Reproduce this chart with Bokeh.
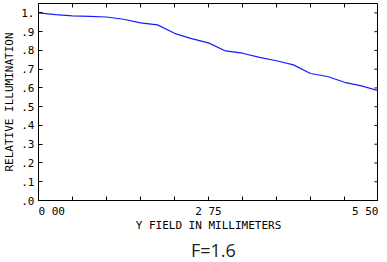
import math
from bokeh.plotting import figure
from bokeh.models import Range1d, FixedTicker, Div
from bokeh.layouts import column
from bokeh.embed import file_html
from bokeh.resources import INLINE

# Data
field_mm = [0.0, 0.275, 0.55, 0.825, 1.1, 1.375, 1.65, 1.925, 2.2, 2.475, 2.75,
            3.025, 3.3, 3.575, 3.85, 4.125, 4.4, 4.675, 4.95, 5.225, 5.5]
illumination = [1.000, 0.991, 0.984, 0.981, 0.978, 0.966, 0.947, 0.936, 0.891, 0.863, 0.840,
                0.797, 0.785, 0.763, 0.745, 0.723, 0.677, 0.661, 0.630, 0.611, 0.585]

y_ticks = [0.0, 0.1, 0.2, 0.3, 0.4, 0.5, 0.6, 0.7, 0.8, 0.9, 1.0]
y_tick_labels = [".0", ".1", ".2", ".3", ".4", ".5", ".6", ".7", ".8", ".9", "1."]
x_ticks = [0.0, 0.55, 1.1, 1.65, 2.2, 2.75, 3.3, 3.85, 4.4, 4.95, 5.5]
x_tick_labels = {0.0: "0 00", 2.75: "2 75", 5.5: "5 50"}

x_title = "Y FIELD IN MILLIMETERS"
y_title = "RELATIVE ILLUMINATION"
caption = "F=1.6"

MONO = "DejaVu Sans Mono"
NB = "\u00a0"
X_MAX = 5.5
Y_MAX = 1.05

p = figure(width=378, height=234, output_backend="svg", toolbar_location=None,
           x_range=Range1d(0, X_MAX), y_range=Range1d(0, Y_MAX),
           min_border_left=34, min_border_right=0, min_border_top=3, min_border_bottom=0)
p.background_fill_color = "white"
p.border_fill_color = "white"
p.outline_line_color = "black"
p.outline_line_width = 1
p.grid.visible = False


def inward(ax):
    ax.major_tick_in = 4
    ax.major_tick_out = 0
    ax.minor_tick_in = 0
    ax.minor_tick_out = 0
    ax.minor_tick_line_color = None
    ax.axis_line_color = "black"
    ax.major_tick_line_color = "black"


# Bottom axis: first label left-aligned (padded with nbsp)
xa = p.xaxis[0]
inward(xa)
xa.ticker = FixedTicker(ticks=x_ticks)
over = {t: "" for t in x_ticks}
over[0.0] = NB * 4 + x_tick_labels[0.0]
over[2.75] = x_tick_labels[2.75]
over[5.5] = x_tick_labels[5.5]
xa.major_label_overrides = over
xa.major_label_text_font = MONO
xa.major_label_text_font_size = "11px"
xa.major_label_text_color = "black"
xa.major_label_standoff = 4
xa.axis_label = x_title
xa.axis_label_text_font = MONO
xa.axis_label_text_font_size = "11px"
xa.axis_label_text_font_style = "normal"
xa.axis_label_text_color = "black"
xa.axis_label_standoff = -2

# Left axis
ya = p.yaxis[0]
inward(ya)
ya.ticker = FixedTicker(ticks=y_ticks)
ya.major_label_overrides = {t: s for t, s in zip(y_ticks, y_tick_labels)}
ya.major_label_text_font = MONO
ya.major_label_text_font_size = "11px"
ya.major_label_text_color = "black"
ya.major_label_standoff = 4
ya.axis_label = y_title
ya.axis_label_text_font = MONO
ya.axis_label_text_font_size = "11px"
ya.axis_label_text_font_style = "normal"
ya.axis_label_text_color = "black"
ya.axis_label_standoff = 2

# Inward ticks on the top and right edges of the frame (half of each dash is clipped)
p.scatter([X_MAX] * len(y_ticks), y_ticks, marker="dash", size=8,
          line_color="black", line_width=1)
p.scatter(x_ticks, [Y_MAX] * len(x_ticks), marker="dash", size=8, angle=math.pi / 2,
          line_color="black", line_width=1)

# Curve
p.line(field_mm, illumination, line_color="#1a1aff", line_width=1.2)

# Caption under the chart
cap = Div(text=caption, width=378, height=12,
          styles={"font-family": "'Open Sans'", "font-size": "18px", "color": "#222222",
                  "line-height": "16px", "text-align": "left", "padding-left": "186px",
                  "padding-top": "3px", "box-sizing": "border-box", "overflow": "visible"})

layout = column(p, cap, spacing=0)
open("out.html", "w").write(file_html(layout, INLINE))
